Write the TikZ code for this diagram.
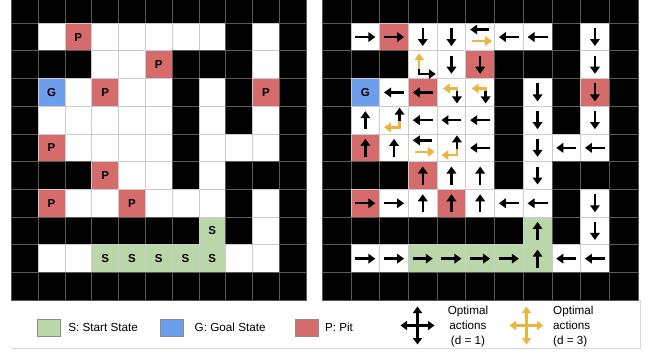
\documentclass[tikz,border=0pt]{standalone}
\usepackage{fontspec}
\setmainfont{Liberation Sans}
\usepackage{tikz}
\usetikzlibrary{arrows.meta,positioning,calc}
\usepackage{xcolor}
\definecolor{pitred}{HTML}{D56B6B}
\definecolor{goalblue}{HTML}{6D9EEB}
\definecolor{startgreen}{HTML}{B9D7A8}
\definecolor{optgold}{HTML}{EBB541}
\colorlet{colB}{black}
\colorlet{colW}{white}
\colorlet{colP}{pitred}
\colorlet{colG}{goalblue}
\colorlet{colS}{startgreen}
\colorlet{lineB}{black!65}
\colorlet{lineW}{black!20}
\colorlet{lineP}{black!20}
\colorlet{lineG}{black!20}
\colorlet{lineS}{black!20}
\newcommand{\celltext}[2]{\if G#2G\else\if L#1\if P#2P\fi\if S#2S\fi\fi\fi}
\tikzset{
  cellbox/.style={draw, line width=0.8pt, inner sep=0pt, font=\bfseries\fontsize{11.5}{13}\selectfont},
  act/.style={line width=2.4pt, -{Triangle[length=7pt,width=9.5pt]}},
  goldact/.style={act, draw=optgold},
  crossarr/.style={line width=2.2pt, {Triangle[length=6.5pt,width=9pt]}-{Triangle[length=6.5pt,width=9pt]}},
  legbox/.style={draw=black!45, line width=0.6pt, minimum width=23pt, minimum height=17pt, inner sep=0pt},
  legtext/.style={inner sep=0pt, font=\fontsize{11.7}{15}\selectfont},
}

\begin{document}
\begin{tikzpicture}[x=1pt, y=-1pt]
\useasboundingbox (0,0) rectangle (649,353);
\clip (0,0) rectangle (649,353);
\fill[white] (0,0) rectangle (649,353);
% both grids share one map
\foreach \g/\xo/\w in {L/11.3/26.8, R/322.3/28.7}
  \foreach \r/\cells in {
      0/{B,B,B,B,B,B,B,B,B,B,B},
      1/{B,W,P,W,W,W,W,W,B,W,B},
      2/{B,B,B,W,W,P,B,B,B,W,B},
      3/{B,G,W,P,W,W,B,W,B,P,B},
      4/{B,W,W,W,W,W,B,W,B,W,B},
      5/{B,P,W,W,W,W,B,W,W,W,B},
      6/{B,B,B,P,W,W,B,W,B,B,B},
      7/{B,P,W,W,P,W,W,W,B,W,B},
      8/{B,B,B,B,B,B,B,S,B,W,B},
      9/{B,W,W,S,S,S,S,S,W,W,B},
      10/{B,B,B,B,B,B,B,B,B,B,B}}
    \foreach \t [count=\c from 0] in \cells
      \node[cellbox, fill=col\t, draw=line\t, minimum width=\w pt, minimum height=27.7pt]
        (\g-\c-\r) at ({\xo+(\c+0.5)*\w}, {23.2+(\r-0.5)*27.7}) {\celltext{\g}{\t}};

% d = 1 moves
\foreach \c/\r in {1/1,2/1,1/7,2/7,1/9,2/9,3/9,4/9,5/9,6/9}
  \draw[act] ($(R-\c-\r.center)+(-10,0)$) -- ++(20,0);
\foreach \c/\r in {6/1,7/1,2/3,3/3,3/4,4/4,5/4,5/5,8/5,9/5,6/7,7/7,8/9,9/9}
  \draw[act] ($(R-\c-\r.center)+(10,0)$) -- ++(-20,0);
\foreach \c/\r in {3/1,4/1,9/1,4/2,5/2,9/2,7/3,9/3,7/4,9/4,7/5,7/6,9/7,9/8}
  \draw[act] ($(R-\c-\r.center)+(0,-9)$) -- ++(0,18);
\foreach \c/\r in {1/4,1/5,2/5,3/6,4/6,5/6,3/7,4/7,5/7,7/8,7/9}
  \draw[act] ($(R-\c-\r.center)+(0,9)$) -- ++(0,-18);

% cells where d = 3 differs
\foreach \c/\r in {5/1,3/5} {
  \draw[act] ($(R-\c-\r.center)+(9,-7.5)$) -- ++(-19,0);
  \draw[goldact] ($(R-\c-\r.center)+(-8,4)$) -- ++(20,0);
}
\draw[goldact] ($(R-3-2.center)+(-3.5,4.2)$) -- ++(0,-15.7);
\draw[act] ($(R-3-2.center)+(-3.5,4.2)$) -- ++(0,5.1) -- ++(16.5,0);
\foreach \c in {4,5} {
  \draw[goldact] ($(R-\c-3.center)+(5.5,-1)$) -- ++(0,-3) -- ++(-14,0);
  \draw[act] ($(R-\c-3.center)+(5.5,-1)$) -- ++(0,12);
}
\foreach \c/\r in {2/4,4/5} {
  \draw[act] ($(R-\c-\r.center)+(5.5,1.2)$) -- ++(0,-13.7);
  \draw[goldact] ($(R-\c-\r.center)+(5.5,1.2)$) -- ++(0,6) -- ++(-15.5,0);
}

% legend
\draw[black!15, line width=1.5pt] (11,348.5) -- (640.5,348.5) -- (640.5,300);
\node[legbox, fill=startgreen] (keyS) at (48.3,327.4) {};
\node[legtext, right=8pt of keyS] (keyStxt) {S: Start State};
\node[legbox, fill=goalblue] (keyG) at (171.7,327.4) {};
\node[legtext, right=11pt of keyG] (keyGtxt) {G: Goal State};
\node[legbox, fill=pitred] (keyP) at (307,327.4) {};
\node[legtext, right=6pt of keyP] (keyPtxt) {P: Pit};
\coordinate (crossK) at (417.5,325.5);
\draw[crossarr] ($(crossK)+(-17,0)$) -- ($(crossK)+(17,0)$);
\draw[crossarr] ($(crossK)+(0,-19)$) -- ($(crossK)+(0,19)$);
\node[legtext, align=center] (crossKtxt) at (468,326.7) {Optimal\\actions\\(d = 1)};
\coordinate (crossD) at (526.5,325.5);
\draw[crossarr, draw=optgold] ($(crossD)+(-17,0)$) -- ($(crossD)+(17,0)$);
\draw[crossarr, draw=optgold] ($(crossD)+(0,-19)$) -- ($(crossD)+(0,19)$);
\node[legtext, align=left, anchor=west] (crossDtxt) at (553,326.7) {Optimal\\actions\\(d = 3)};
\end{tikzpicture}
\end{document}
